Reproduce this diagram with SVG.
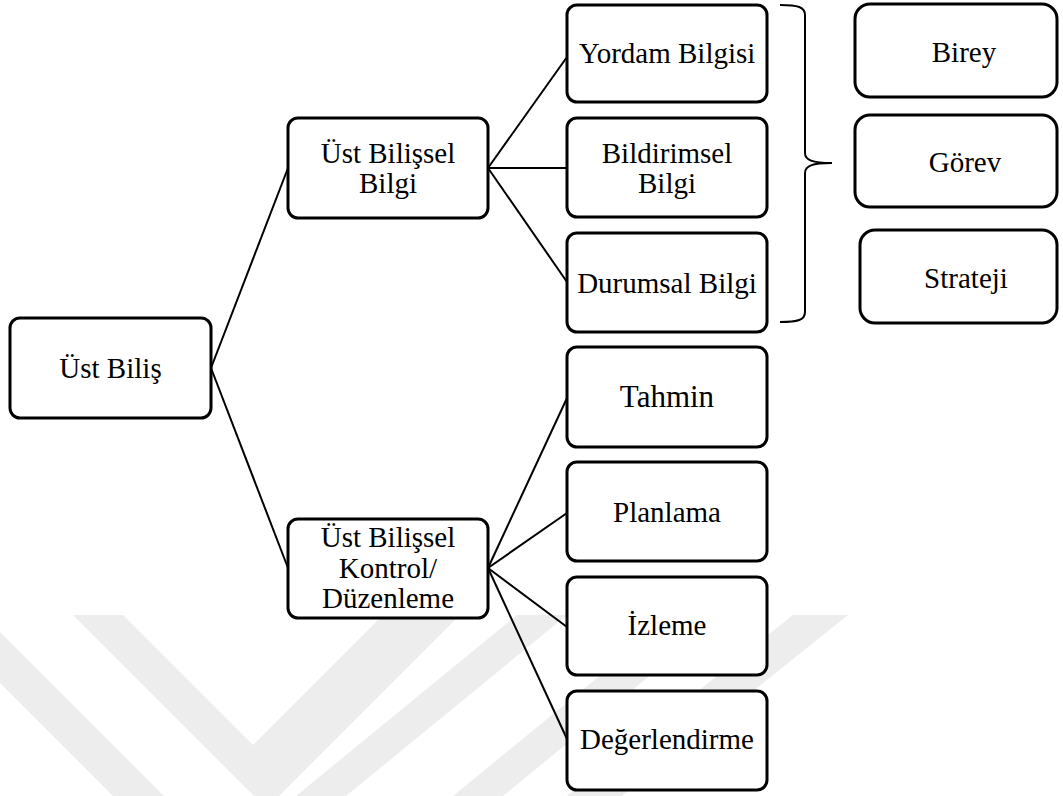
<svg xmlns="http://www.w3.org/2000/svg" width="1063" height="796" viewBox="0 0 1063 796">
<style>
  .box { fill: #ffffff; stroke: #000000; stroke-width: 3; }
  .conn { stroke: #000000; stroke-width: 2; fill: none; }
  .wm { fill: #ededed; stroke: none; }
  text { font-family: "Liberation Serif", "Times New Roman", serif; font-size: 29px; fill: #000000; text-anchor: middle; }
</style>
<rect x="0" y="0" width="1063" height="796" fill="#ffffff"/>
<g id="watermark">
  <polygon class="wm" points="0,632 164,796 113,796 0,683"/>
  <polygon class="wm" points="73,615 123,615 253,745 383,615 460,615 279,796 254,796"/>
  <polygon class="wm" points="517,615 567,615 346,796 296,796"/>
  <polygon class="wm" points="674,615 724,615 503,796 453,796"/>
  <polygon class="wm" points="793,615 848,615 622,796 567,796"/>
</g>
<g id="connectors">
  <line class="conn" x1="211" y1="368" x2="288" y2="168"/>
  <line class="conn" x1="211" y1="368" x2="288" y2="568"/>
  <line class="conn" x1="488" y1="168" x2="567" y2="57"/>
  <line class="conn" x1="488" y1="168" x2="567" y2="168"/>
  <line class="conn" x1="488" y1="168" x2="567" y2="282"/>
  <line class="conn" x1="488" y1="568" x2="567" y2="398"/>
  <line class="conn" x1="488" y1="568" x2="567" y2="513"/>
  <line class="conn" x1="488" y1="568" x2="567" y2="627"/>
  <line class="conn" x1="488" y1="568" x2="567" y2="739"/>
  <path class="conn" d="M 780 5 C 798 5, 805 7, 805 15 L 805 153 C 805 160, 812 163, 832 163 C 812 163, 805 166, 805 173 L 805 312 C 805 320, 798 322, 780 322"/>
</g>
<g id="n-ust-bilis">
  <rect class="box" x="10" y="318" width="201" height="100" rx="10"/>
  <text x="110.5" y="378">Üst Biliş</text>
</g>
<g id="n-ust-bilissel-bilgi">
  <rect class="box" x="288" y="118" width="200" height="100" rx="10"/>
  <text x="388" y="163">Üst Bilişsel</text>
  <text x="388" y="193">Bilgi</text>
</g>
<g id="n-kontrol">
  <rect class="box" x="288" y="519" width="200" height="99" rx="10"/>
  <text x="388" y="547">Üst Bilişsel</text>
  <text x="388" y="578">Kontrol/</text>
  <text x="388" y="608">Düzenleme</text>
</g>
<g id="n-yordam">
  <rect class="box" x="567" y="5" width="200" height="97" rx="10"/>
  <text x="667" y="63">Yordam Bilgisi</text>
</g>
<g id="n-bildirimsel">
  <rect class="box" x="567" y="118" width="200" height="99" rx="10"/>
  <text x="667" y="163">Bildirimsel</text>
  <text x="667" y="193">Bilgi</text>
</g>
<g id="n-durumsal">
  <rect class="box" x="567" y="233" width="200" height="99" rx="10"/>
  <text x="667" y="293">Durumsal Bilgi</text>
</g>
<g id="n-tahmin">
  <rect class="box" x="567" y="347" width="200" height="100" rx="10"/>
  <text x="667" y="407" style="font-size:31px">Tahmin</text>
</g>
<g id="n-planlama">
  <rect class="box" x="567" y="462" width="200" height="99" rx="10"/>
  <text x="667" y="522">Planlama</text>
</g>
<g id="n-izleme">
  <rect class="box" x="567" y="577" width="200" height="98" rx="10"/>
  <text x="667" y="635">İzleme</text>
</g>
<g id="n-degerlendirme">
  <rect class="box" x="567" y="691" width="200" height="99" rx="10"/>
  <text x="667" y="749">Değerlendirme</text>
</g>
<g id="n-birey">
  <rect class="box" x="855" y="4" width="202" height="93" rx="15"/>
  <text x="964" y="62">Birey</text>
</g>
<g id="n-gorev">
  <rect class="box" x="855" y="115" width="202" height="92" rx="15"/>
  <text x="965" y="172">Görev</text>
</g>
<g id="n-strateji">
  <rect class="box" x="860" y="230" width="197" height="93" rx="15"/>
  <text x="966" y="288">Strateji</text>
</g>
</svg>
